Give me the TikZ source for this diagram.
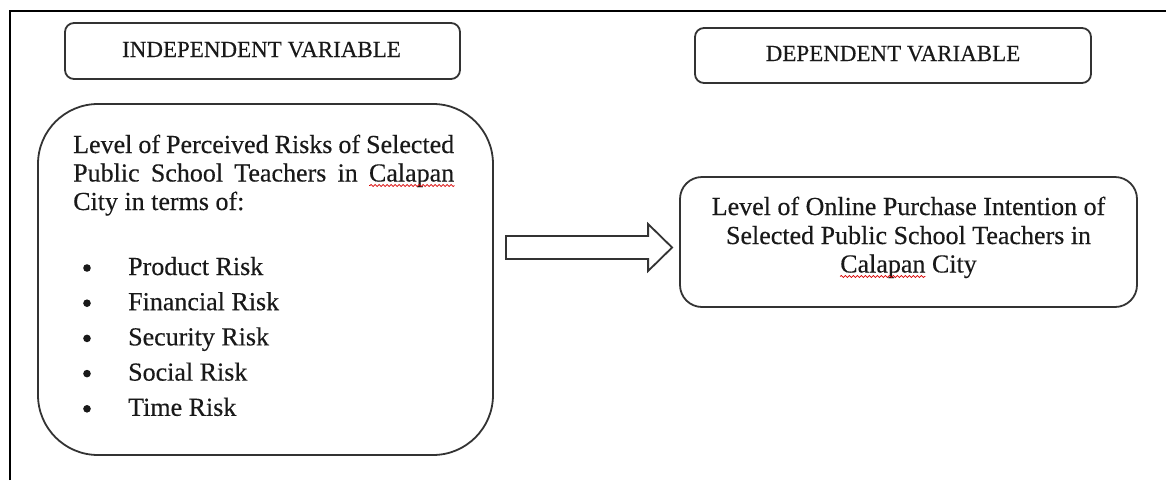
\documentclass[tikz,border=0pt]{standalone}
\usepackage{fontspec}
\setmainfont[FakeBold=0.35]{Liberation Serif}
\usepackage{tikz}
\usetikzlibrary{calc,decorations.pathmorphing}
\newlength\calw

\begin{document}
\settowidth{\calw}{\fontsize{26}{30}\selectfont Calapan}
\begin{tikzpicture}[x=1pt,y=-1pt,
  every node/.style={font=\fontsize{26}{30}\selectfont,text=black!90,inner sep=0pt},
  boxline/.style={draw=black!80,line width=1.8pt},
  headtext/.style={font=\fontsize{23}{27}\selectfont},
  spellmark/.style={red!85!black,line width=0.8pt,decorate,decoration={snake,amplitude=1pt,segment length=4pt}}]
\useasboundingbox (0,0) rectangle (1166,480);
\draw[black,line width=1.2pt] (10,480)--(10,11)--(1166,11);
% headings
\node[boxline,rounded corners=9pt,minimum width=395pt,minimum height=56pt] (indep) at (262.5,51) {};
\node[headtext,anchor=base] (indeptxt) at (261.5,57) {INDEPENDENT VARIABLE};
\node[boxline,rounded corners=9pt,minimum width=396pt,minimum height=55pt] (dep) at (893,55.5) {};
\node[headtext,anchor=base] (deptxt) at (893,61) {DEPENDENT VARIABLE};
% independent variable box
\node[boxline,rounded corners=60pt,minimum width=455pt,minimum height=351pt] (ivbox) at (265.5,279.5) {};
\node[anchor=base west] (ivl1) at (73,153) {\makebox[381pt][s]{Level of Perceived Risks of Selected}};
\node[anchor=base west] (ivl2) at (73,181.5) {\makebox[381pt][s]{Public School Teachers in Calapan}};
\node[anchor=base west] (ivl3) at (73,210) {City in terms of:};
\draw[spellmark] ([yshift=-4pt]ivl2.base east) -- ++(-\calw,0);
\foreach \lbl [count=\i] in {Product Risk,Financial Risk,Security Risk,Social Risk,Time Risk}{
  \fill[black!90] (87,268+35.2*\i-35.2) circle (3.8pt);
  \node[anchor=base west] (item\i) at (128,275+35.2*\i-35.2) {\lbl};
}
% dependent variable box
\node[boxline,rounded corners=22pt,minimum width=457pt,minimum height=130pt] (dvbox) at (908.5,242) {};
\node[anchor=base] (dvl1) at (908.5,215) {Level of Online Purchase Intention of};
\node[anchor=base] (dvl2) at (908.5,244) {Selected Public School Teachers in};
\node[anchor=base] (dvl3) at (908.5,272.5) {Calapan City};
\draw[spellmark] ([yshift=-4pt]dvl3.base west) -- ++(\calw,0);
% block arrow
\coordinate (arrtail) at ($(ivbox.east)+(12,-32)$);
\coordinate (arrtip) at ($(dvbox.west)+(-7,5.5)$);
\draw[boxline] ($(arrtail)+(0,-11.5)$) -- ($(arrtip)+(-24,-11.5)$) -- ($(arrtip)+(-24,-23.5)$)
  -- (arrtip) -- ($(arrtip)+(-24,23.5)$) -- ($(arrtip)+(-24,11.5)$) -- ($(arrtail)+(0,11.5)$) -- cycle;
\end{tikzpicture}
\end{document}
